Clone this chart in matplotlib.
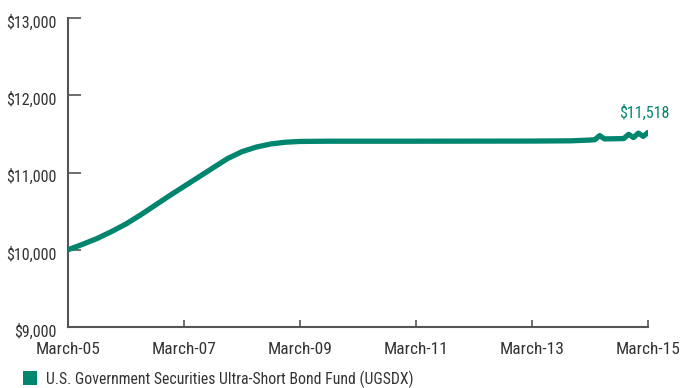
import matplotlib
matplotlib.use("Agg")
import matplotlib.pyplot as plt
import matplotlib.transforms as mtransforms
from matplotlib.patches import Patch
from matplotlib.ticker import FuncFormatter

plt.rcParams['font.family'] = ['Roboto Condensed', 'DejaVu Sans']

# months since March 2005
months = [0, 3, 6, 9, 12, 15, 18, 21, 24, 27, 30, 33, 36, 39, 42, 45, 48, 54,
          60, 72, 84, 96, 104, 106, 108, 109, 110, 111, 112, 113, 114, 115,
          116, 117, 118, 119, 120]
values = [10000, 10070, 10145, 10235, 10334, 10450, 10575, 10700, 10820, 10940,
          11060, 11180, 11270, 11330, 11370, 11392, 11402, 11405,
          11405, 11405, 11406, 11407, 11410, 11415, 11420, 11425, 11478, 11435,
          11436, 11437, 11438, 11440, 11494, 11452, 11510, 11468, 11518]

tick_months = [0, 24, 48, 72, 96, 120]
tick_labels = ["March-05", "March-07", "March-09", "March-11", "March-13", "March-15"]
y_ticks = [9000, 10000, 11000, 12000, 13000]
series_name = "U.S. Government Securities Ultra-Short Bond Fund (UGSDX)"
end_label = "$11,518"

teal = "#00866E"
text_col = "#333333"
axis_col = "#555555"

fig = plt.figure(figsize=(6.8, 3.88), dpi=100)
ax = fig.add_axes([68/680, 1-327/388, (648-68)/680, (327-18)/388])

ax.plot(months, values, color=teal, lw=3.8, solid_capstyle='round', solid_joinstyle='round', zorder=3)

ax.set_xlim(0, 120)
ax.set_ylim(9000, 13000)
ax.set_xticks(tick_months)
ax.set_xticklabels(tick_labels)
ax.set_yticks(y_ticks)
ax.yaxis.set_major_formatter(FuncFormatter(lambda v, p: "${:,.0f}".format(v)))

for s in ['top', 'right']:
    ax.spines[s].set_visible(False)
for s in ['left', 'bottom']:
    ax.spines[s].set_color(axis_col)
    ax.spines[s].set_linewidth(1.5)

ax.tick_params(axis='y', direction='in', length=9.5, width=1.2, color=axis_col,
               pad=8, labelsize=11.5, labelcolor=text_col)
ax.tick_params(axis='x', direction='in', length=5, width=1.2, color=axis_col,
               pad=11, labelsize=12.5, labelcolor=text_col)

shift = mtransforms.ScaledTranslation(0, -3/100, fig.dpi_scale_trans)
for lab in ax.get_yticklabels():
    lab.set_transform(lab.get_transform() + shift)

ax.annotate(end_label, xy=(months[-1], values[-1]), xytext=(-3, 10.5),
            textcoords='offset points', ha='center', va='baseline',
            color=teal, fontsize=11.5)

fig.legend(handles=[Patch(facecolor=teal, edgecolor='none', label=series_name)],
           loc='center left', bbox_to_anchor=(23/680, 1-379/388), frameon=False,
           handlelength=0.92, handleheight=1.0, handletextpad=0.52,
           fontsize=11.3, labelcolor=text_col, borderaxespad=0, borderpad=0)

fig.savefig("out.png", dpi=100)
